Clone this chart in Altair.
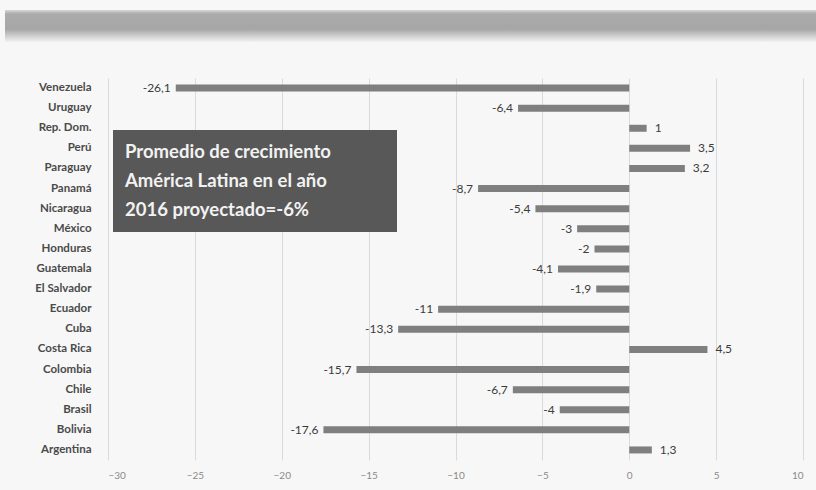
import altair as alt
import pandas as pd

# Proyección de crecimiento 2016 por país (%)
countries = ["Venezuela", "Uruguay", "Rep. Dom.", "Perú", "Paraguay", "Panamá",
             "Nicaragua", "México", "Honduras", "Guatemala", "El Salvador",
             "Ecuador", "Cuba", "Costa Rica", "Colombia", "Chile", "Brasil",
             "Bolivia", "Argentina"]
growth = [-26.1, -6.4, 1, 3.5, 3.2, -8.7, -5.4, -3, -2, -4.1, -1.9, -11,
          -13.3, 4.5, -15.7, -6.7, -4, -17.6, 1.3]
x_ticks = [-30, -25, -20, -15, -10, -5, 0, 5, 10]
note_lines = ["Promedio de crecimiento", "América Latina en el año",
              "2016 proyectado=-6%"]

df = pd.DataFrame({
    "pais": countries,
    "valor": growth,
    "etiqueta": [f"{v:g}".replace(".", ",") for v in growth],
})
df["lado"] = ["neg" if v < 0 else "pos" for v in growth]

W, H = 695, 382
FONT = "Lato"

x_scale = alt.Scale(domain=[-30, 10], nice=False)
y_enc = alt.Y("pais:N", sort=countries, title=None,
              scale=alt.Scale(paddingInner=0.2, paddingOuter=0.1),
              axis=alt.Axis(labelFont=FONT, labelFontSize=11.5,
                            labelFontWeight="bold", labelColor="#4a4a4a",
                            labelPadding=17, ticks=False, domain=False,
                            grid=False))

base = alt.Chart(df)

bars = base.mark_bar(size=7, color="#7f7f7f").encode(
    x=alt.X("valor:Q", scale=x_scale, title=None,
            axis=alt.Axis(values=x_ticks, labelFont=FONT, labelFontSize=10,
                          labelColor="#8a8a8a", labelPadding=10, ticks=False,
                          domain=False, grid=True, gridColor="#dadada",
                          gridWidth=1)),
    y=y_enc,
)

labels_neg = base.transform_filter("datum.lado == 'neg'").mark_text(
    align="right", dx=-5, font=FONT, fontSize=12, color="#3c3c3c"
).encode(x="valor:Q", y=alt.Y("pais:N", sort=countries), text="etiqueta:N")

labels_pos = base.transform_filter("datum.lado == 'pos'").mark_text(
    align="left", dx=8, font=FONT, fontSize=12, color="#3c3c3c"
).encode(x="valor:Q", y=alt.Y("pais:N", sort=countries), text="etiqueta:N")

# Franja decorativa superior con degradado gris
band = alt.Chart(pd.DataFrame({"k": [0]})).mark_rect(
    color=alt.Gradient(
        gradient="linear", x1=0, x2=0, y1=0, y2=1,
        stops=[alt.GradientStop(color="#d8d8d8", offset=0),
               alt.GradientStop(color="#ababab", offset=0.12),
               alt.GradientStop(color="#a6a6a6", offset=0.6),
               alt.GradientStop(color="#f2f2f2", offset=1)])
).encode(x=alt.value(-103), x2=alt.value(W + 13),
         y=alt.value(-68), y2=alt.value(-36))

# Recuadro con el promedio regional
box = alt.Chart(pd.DataFrame({"k": [0]})).mark_rect(color="#585858").encode(
    x=alt.value(5), x2=alt.value(289), y=alt.value(52), y2=alt.value(154))

note_df = pd.DataFrame({"linea": note_lines, "pos": [74, 103, 132]})
note = alt.Chart(note_df).mark_text(
    align="left", baseline="middle", font=FONT, fontSize=18.5,
    fontWeight="bold", color="#f2f2f2"
).encode(x=alt.value(17), y=alt.Y("pos:Q", scale=None), text="linea:N")

chart = alt.layer(band, bars, labels_neg, labels_pos, box, note).properties(
    width=W, height=H,
    autosize=alt.AutoSizeParams(type="none"),
    padding={"left": 108, "top": 78, "right": 13, "bottom": 30},
    background="#f7f7f7",
).configure_view(stroke=None)

chart.save("out.html", embed_options={"renderer": "svg", "actions": False})
